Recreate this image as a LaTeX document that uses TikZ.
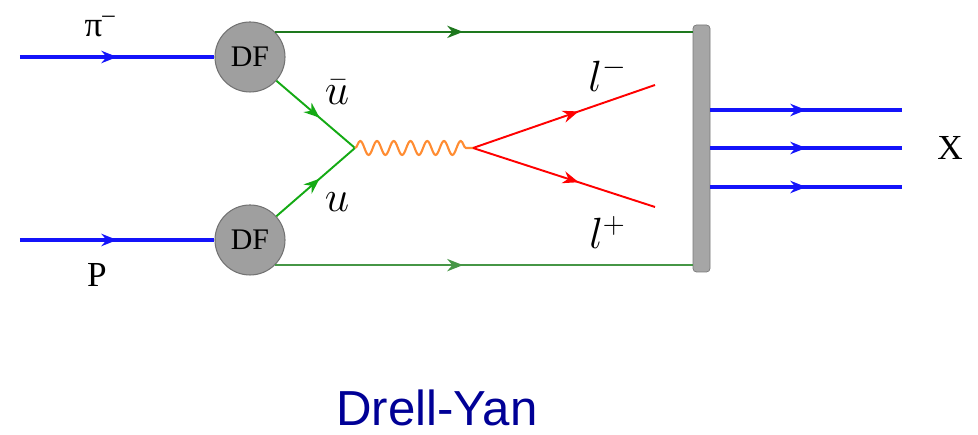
\documentclass[tikz,border=0pt]{standalone}
\usepackage{fontspec}
\setmainfont{Liberation Serif}
\newfontfamily\capfont{Liberation Sans}
\usepackage{tikz}
\usetikzlibrary{arrows.meta,decorations.markings,decorations.pathmorphing}

\definecolor{lineblue}{RGB}{20,20,250}
\definecolor{darkgreen}{RGB}{30,120,30}
\definecolor{softgreen}{RGB}{70,150,70}
\definecolor{quarkgreen}{RGB}{20,170,20}
\definecolor{photonorange}{RGB}{255,140,50}
\definecolor{navy}{RGB}{0,0,150}

\tikzset{
  midarrow/.style={postaction={decorate,decoration={markings,
      mark=at position #1 with {\arrow{Stealth[length=9pt,width=7pt]}}}}},
  midarrow/.default=0.5,
  hadron/.style={lineblue,line width=1.8pt,midarrow},
  df/.style={circle,fill=gray!75,draw=gray!90!black,line width=0.6pt,
      minimum size=1.4cm,inner sep=0pt,font=\fontsize{17}{20}\selectfont},
  lbl/.style={font=\fontsize{20}{24}\selectfont},
  mathlbl/.style={font=\fontsize{25}{30}\selectfont}
}

\begin{document}
\begin{tikzpicture}
    \useasboundingbox (0,0) rectangle (19.56,8.7);

    \node [df] (DF1) at (5.0,7.56) {DF};
    \node [df] (DF2) at (5.0,3.9) {DF};
    \node [fill=gray!70,draw=gray!95!black,rounded corners=2pt,minimum width=0.34cm,
           minimum height=4.94cm,inner sep=0pt] (bar) at (14.03,5.73) {};

    \coordinate (pistart) at (0.4,7.56);
    \coordinate (pstart) at (0.4,3.9);
    \coordinate (V) at (7.1,5.74);
    \coordinate (W) at (9.46,5.74);
    \coordinate (lm) at (13.1,7.0);
    \coordinate (lp) at (13.1,4.56);

    % incoming hadrons
    \draw [hadron] (pistart)--(DF1.west);
    \draw [hadron] (pstart)--(DF2.west);
    \node [lbl] (pilbl) at (2.0,8.17) {π\textsuperscript{--}};
    \node [lbl] (plbl) at (1.94,3.2) {P};

    % spectators
    \draw [darkgreen,line width=1.2pt,midarrow=0.45] (DF1.45)--(DF1.45 -| bar.west);
    \draw [softgreen,line width=1.2pt,midarrow=0.45] (DF2.-45)--(DF2.-45 -| bar.west);

    % annihilation
    \draw [quarkgreen,line width=1.1pt,midarrow=0.55] (DF1.-42)--(V);
    \draw [quarkgreen,line width=1.1pt,midarrow=0.55] (DF2.42)--(V);
    \node [mathlbl] (ubar) at (6.74,6.86) {$\bar{u}$};
    \node [mathlbl] (u) at (6.74,4.66) {$u$};
    \draw [photonorange,line width=1.2pt,decorate,
           decoration={snake,amplitude=0.14cm,segment length=0.335cm}] (V)--(W);
    \draw [red,line width=1.1pt,midarrow=0.58] (W)--(lm);
    \draw [red,line width=1.1pt,midarrow=0.58] (W)--(lp);
    \node [mathlbl] (lmlbl) at (12.15,7.2) {$l^-$};
    \node [mathlbl] (lplbl) at (12.15,4.05) {$l^+$};

    % outgoing X
    \foreach \y in {6.5,5.74,4.96}
        \draw [hadron] (bar.east |- 0,\y)--(18.04,\y);
    \node [lbl] (xlbl) at (19.0,5.74) {X};

    \node [navy,font=\capfont\fontsize{28}{32}\selectfont] (title) at (8.74,0.55) {Drell-Yan};

\end{tikzpicture}
\end{document}
